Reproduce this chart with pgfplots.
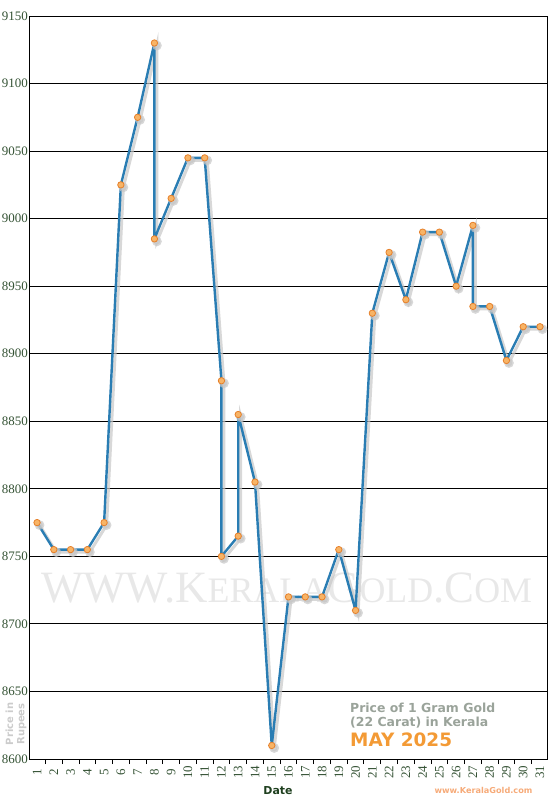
\documentclass[border=0pt]{standalone}
\usepackage{fontspec}
\setmainfont{Liberation Serif}
\newfontfamily\vfont{DejaVu Sans}
\usepackage{pgfplots}
\pgfplotsset{compat=1.18}
\definecolor{tickgreen}{HTML}{345234}
\definecolor{dategreen}{HTML}{1E3F1E}
\definecolor{lineblue}{HTML}{2A7DB3}
\definecolor{markfill}{HTML}{F8B466}
\definecolor{markdraw}{HTML}{E6802A}
\definecolor{titlegray}{HTML}{9AA39A}
\definecolor{maycol}{HTML}{F39A35}
\definecolor{maydraw}{HTML}{E07A1E}
\definecolor{webcol}{HTML}{F6AA78}
\begin{document}
\begin{tikzpicture}
\useasboundingbox (0,0) rectangle (550bp,800bp);
% watermark
\node[anchor=base west, text=black!9, inner sep=0] at (41bp,197bp)
  {\fontsize{45}{45}\selectfont WWW.K\fontsize{36}{36}\selectfont ERALA\fontsize{45}{45}\selectfont G\fontsize{36}{36}\selectfont OLD\fontsize{45}{45}\selectfont .C\fontsize{36}{36}\selectfont OM};
\begin{axis}[
  at={(29.5bp,41bp)}, anchor=south west,
  scale only axis, width=518bp, height=743bp,
  xmin=0.55, xmax=31.45, ymin=8600, ymax=9150,
  xtick={1,...,31},
  minor xtick={1.5,2.5,...,30.5},
  ytick={8600,8650,...,9150},
  ymajorgrids,
  grid style={black, line width=0.9bp},
  axis line style={black, line width=0.9bp},
  major tick length=0pt, minor tick length=5bp,
  tick align=outside, xtick pos=bottom, ytick pos=left,
  minor tick style={black, line width=0.9bp},
  /pgf/number format/assume math mode=true,
  /pgf/number format/set thousands separator={},
  ticklabel style={font=\fontsize{13}{13}\selectfont, text=tickgreen},
  yticklabel style={inner xsep=1.5bp},
  xticklabel style={yshift=-13bp, rotate=90, anchor=center, font=\fontsize{13}{13}\selectfont},
  clip=false,
]
\pgfplotstableread{
day price
1 8775
2 8755
3 8755
4 8755
5 8775
6 9025
7 9075
8 9130
8 8985
9 9015
10 9045
11 9045
12 8880
12 8750
13 8765
13 8855
14 8805
15 8610
16 8720
17 8720
18 8720
19 8755
20 8710
21 8930
22 8975
23 8940
24 8990
25 8990
26 8950
27 8995
27 8935
28 8935
29 8895
30 8920
31 8920
}\gold
% shadow
\addplot[black!22, opacity=0.7, line width=3bp, xshift=2.5bp, yshift=-2.5bp,
  mark=*, mark size=3.3bp, mark options={fill=black!22, draw=black!22}]
  table[x=day, y=price] {\gold};
\addplot[lineblue, line width=2.4bp, line join=round,
  mark=*, mark size=3.2bp, mark options={fill=markfill, draw=markdraw, line width=0.8bp}]
  table[x=day, y=price] {\gold};
\end{axis}
% texts
\node[font=\vfont\bfseries\fontsize{11}{11}\selectfont, text=dategreen] at (278bp,9bp) {Date};
\node[rotate=90, align=center, font=\vfont\bfseries\fontsize{10}{11.5}\selectfont, text=black!20, inner sep=0] at (16bp,76bp) {Price in\\Rupees};
\node[anchor=base west, inner sep=0, font=\vfont\bfseries\fontsize{12.5}{12.5}\selectfont, text=titlegray] at (350bp,87bp) {Price of 1 Gram Gold};
\node[anchor=base west, inner sep=0, font=\vfont\bfseries\fontsize{12.5}{12.5}\selectfont, text=titlegray] at (350bp,73bp) {(22 Carat) in Kerala};
\node[anchor=base west, inner sep=0, font=\vfont\bfseries\fontsize{18.5}{18.5}\selectfont, text=maycol] at (350bp,53.3bp) {MAY 2025};
\node[inner sep=0, font=\vfont\bfseries\fontsize{8.2}{8.2}\selectfont, text=webcol] at (483.5bp,9.5bp) {www.KeralaGold.com};
\end{tikzpicture}
\end{document}
